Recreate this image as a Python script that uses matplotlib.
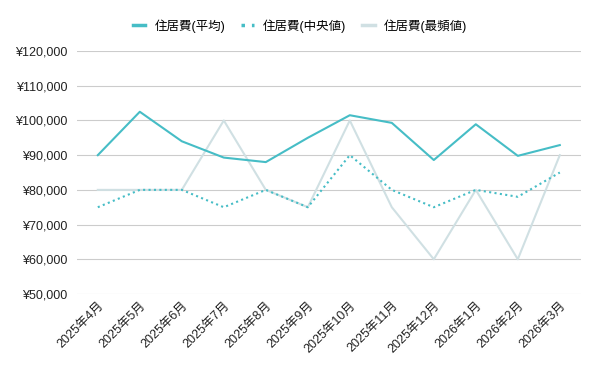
import matplotlib
matplotlib.use("Agg")
import matplotlib.pyplot as plt
from matplotlib.lines import Line2D
from matplotlib.ticker import FuncFormatter

plt.rcParams['font.family'] = ['Liberation Sans', 'Noto Sans CJK JP']

months = ["2025年4月", "2025年5月", "2025年6月", "2025年7月", "2025年8月", "2025年9月",
          "2025年10月", "2025年11月", "2025年12月", "2026年1月", "2026年2月", "2026年3月"]
avg_cost = [90000, 102500, 94000, 89300, 88000, 95000, 101500, 99300, 88600, 98900, 89800, 92900]
median_cost = [75000, 80000, 80000, 75000, 80000, 75000, 90000, 80000, 75000, 80000, 78000, 85000]
mode_cost = [80000, 80000, 80000, 100000, 80000, 75000, 100000, 75000, 60000, 80000, 60000, 90000]
series_names = ["住居費(平均)", "住居費(中央値)", "住居費(最頻値)"]

c_avg = "#46bdc6"
c_mode = "#d0e0e3"

fig = plt.figure(figsize=(6, 3.71), dpi=100)
ax = fig.add_axes([0.128, 0.2075, 0.84, 0.655])

x = range(len(months))
ax.plot(x, mode_cost, color=c_mode, lw=1.5, zorder=2)
ax.plot(x, median_cost, color=c_avg, lw=1.5, ls=(0, (1, 1.6)), zorder=3)
ax.plot(x, avg_cost, color=c_avg, lw=1.5, zorder=4)

ax.set_ylim(50000, 120000)
ax.set_yticks(range(50000, 120001, 10000))
ax.yaxis.set_major_formatter(FuncFormatter(lambda v, p: f"¥{int(v):,}"))
ax.set_xlim(-0.5, len(months) - 0.5)
ax.set_xticks(list(x))
ax.set_xticklabels(months, rotation=45, ha="right", rotation_mode="anchor")

ax.grid(axis="y", color="#cccccc", lw=0.8)
ax.set_axisbelow(True)
for s in ax.spines.values():
    s.set_visible(False)
ax.tick_params(length=0, labelsize=9, colors="#222222")
ax.tick_params(axis="y", pad=7)
ax.tick_params(axis="x", pad=4)

handles = [Line2D([], [], color=c_avg, lw=2.5),
           Line2D([], [], color=c_avg, lw=2.5, ls=(0, (1, 2.0))),
           Line2D([], [], color=c_mode, lw=2.5)]
fig.legend(handles, series_names, loc="center",
           bbox_to_anchor=(0.5, 0.93), ncol=3, frameon=False, fontsize=9,
           handlelength=1.0, columnspacing=1.3, handletextpad=0.72)

fig.savefig("out.png", dpi=100)
